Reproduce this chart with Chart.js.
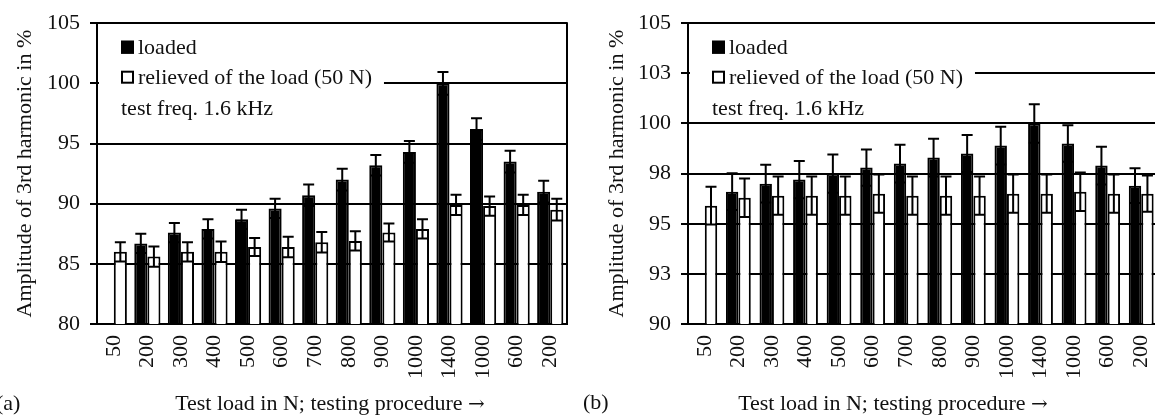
<!DOCTYPE html>
<html>
<head>
<meta charset="utf-8">
<script src="https://cdn.jsdelivr.net/npm/chart.js@4.4.0/dist/chart.umd.min.js"></script>
<style>
body{margin:0;width:1155px;height:416px;overflow:hidden;position:relative;background:#fff;font-family:"Liberation Serif","Times New Roman",serif;color:#111}
canvas{position:absolute;top:0}
#chartA{left:0}
#chartB{left:580px}
.lbl{position:absolute;font-size:22px;line-height:22px;white-space:nowrap}
.xt{transform:translateX(-50%)}
.arr{font-family:"DejaVu Serif",serif;font-size:20px}
</style>
</head>
<body>
<canvas id="chartA" width="580" height="416"></canvas>
<canvas id="chartB" width="583" height="416"></canvas>
<div class="lbl" style="left:-4px;top:392px">(a)</div>
<div class="lbl xt" style="left:330px;top:392px">Test load in N; testing procedure <span class="arr">→</span></div>
<div class="lbl" style="left:583px;top:391px">(b)</div>
<div class="lbl xt" style="left:893px;top:392px">Test load in N; testing procedure <span class="arr">→</span></div>
<script>
let loads=["50","200","300","400","500","600","700","800","900","1000","1400","1000","600","200"];
let seriesNames=["loaded","relieved of the load (50 N)"];
let note="test freq. 1.6 kHz";

// panel (a)
let loadedA=[null,86.7,87.6,87.9,88.7,89.6,90.7,92.0,93.2,94.3,100.0,96.2,93.5,91.0];
let loadedErrA=[null,0.8,0.8,0.8,0.8,0.8,0.9,0.9,0.85,0.9,0.95,0.9,0.9,0.9];
let relievedA=[86.0,85.6,86.0,86.0,86.4,86.4,86.8,86.9,87.6,87.9,89.9,89.8,89.9,89.5];
let relievedErrA=[0.8,0.85,0.8,0.85,0.75,0.85,0.85,0.8,0.75,0.8,0.85,0.8,0.85,0.9];
let ticksA=[80,85,90,95,100,105];

// panel (b)
let loadedB=[null,96.6,97.0,97.2,97.5,97.8,98.0,98.3,98.5,98.9,100.0,99.0,97.9,96.9];
let loadedErrB=[null,0.92,0.94,0.93,0.95,0.9,0.94,0.94,0.92,0.94,0.96,0.91,0.94,0.87];
let relievedB=[95.9,96.3,96.4,96.4,96.4,96.5,96.4,96.4,96.4,96.5,96.5,96.6,96.5,96.5];
let relievedErrB=[0.94,0.96,0.95,0.95,0.95,0.95,0.95,0.95,0.95,0.95,0.95,0.96,0.95,0.9];
let ticksB=[90,92.5,95,97.5,100,102.5,105];

let font={family:'"Liberation Serif","Times New Roman",serif',size:22};
let ink='#111';

// legend drawn inside the plot, on a white patch that hides the grid
let legendNote={
    id:'legendNote',
    beforeDatasetsDraw(chart){
        let ctx=chart.ctx, a=chart.chartArea;
        let x0=a.left+24;
        let rows=[a.top+24,a.top+54,a.top+85];
        let ds=chart.data.datasets;
        ctx.save();
        ctx.font='22px '+font.family;
        let w=Math.max(ctx.measureText(ds[0].label).width,ctx.measureText(ds[1].label).width)+17;
        w=Math.max(w,ctx.measureText(note).width);
        ctx.fillStyle='#fff';
        ctx.fillRect(a.left+2,a.top+2,x0+w+12-a.left-2,95);
        ds.forEach((d,i)=>{
            ctx.fillStyle=d.backgroundColor;
            ctx.fillRect(x0,rows[i]-6.5,13,13);
            ctx.strokeStyle='#000';
            ctx.lineWidth=2;
            ctx.strokeRect(x0+1,rows[i]-5.5,11,11);
            ctx.fillStyle=ink;
            ctx.textBaseline='middle';
            ctx.fillText(d.label,x0+17,rows[i]+1);
        });
        ctx.fillStyle=ink;
        ctx.textBaseline='middle';
        ctx.fillText(note,x0,rows[2]+1);
        ctx.restore();
    }
};

// error bars (+/-) and the right frame line
let errorBars={
    id:'errorBars',
    afterDatasetsDraw(chart){
        let ctx=chart.ctx, y=chart.scales.y, a=chart.chartArea;
        ctx.save();
        ctx.strokeStyle='#000';
        ctx.lineWidth=2;
        chart.data.datasets.forEach((d,i)=>{
            chart.getDatasetMeta(i).data.forEach((bar,j)=>{
                let v=d.data[j], e=d.errors[j];
                if(v==null) return;
                let top=y.getPixelForValue(v+e), bot=y.getPixelForValue(v-e);
                ctx.beginPath();
                ctx.moveTo(bar.x,top); ctx.lineTo(bar.x,bot);
                ctx.moveTo(bar.x-5.5,top); ctx.lineTo(bar.x+5.5,top);
                ctx.moveTo(bar.x-5.5,bot); ctx.lineTo(bar.x+5.5,bot);
                ctx.stroke();
            });
        });
        ctx.beginPath();
        ctx.moveTo(a.right,a.top-1); ctx.lineTo(a.right,a.bottom+1);
        ctx.stroke();
        ctx.restore();
    }
};

function makeChart(id,loaded,loadedErr,relieved,relievedErr,ticks,yWidth,padRight,titlePad,catPct){
    return new Chart(document.getElementById(id),{
        type:'bar',
        data:{
            labels:loads,
            datasets:[
                {label:seriesNames[0],data:loaded,errors:loadedErr,backgroundColor:'#000',borderColor:'#000',borderWidth:2},
                {label:seriesNames[1],data:relieved,errors:relievedErr,backgroundColor:'#fff',borderColor:'#000',borderWidth:2}
            ]
        },
        options:{
            responsive:false,
            animation:false,
            layout:{padding:{top:20,right:padRight,left:0,bottom:0}},
            plugins:{legend:{display:false},tooltip:{enabled:false}},
            datasets:{bar:{categoryPercentage:catPct,barPercentage:1}},
            scales:{
                x:{
                    grid:{display:false},
                    border:{color:'#000',width:2},
                    ticks:{font:font,color:ink,minRotation:90,maxRotation:90,padding:3,autoSkip:false},
                    afterFit:s=>{s.height=92;s.paddingLeft=0;s.paddingRight=0;}
                },
                y:{
                    min:ticks[0],max:ticks[ticks.length-1],
                    grid:{color:'#000',lineWidth:2,tickLength:7},
                    border:{color:'#000',width:2},
                    ticks:{font:font,color:ink,padding:10,callback:v=>Math.round(v)},
                    afterBuildTicks:s=>{s.ticks=ticks.map(v=>({value:v}));},
                    title:{display:true,text:'Amplitude of 3rd harmonic in %',font:font,color:ink,padding:{top:titlePad,bottom:0}},
                    afterFit:s=>{s.width=yWidth;}
                }
            }
        },
        plugins:[legendNote,errorBars]
    });
}

makeChart('chartA',loadedA,loadedErrA,relievedA,relievedErrA,ticksA,97,13,12,0.78);
makeChart('chartB',loadedB,loadedErrB,relievedB,relievedErrB,ticksB,108,5,24,0.74);
</script>
</body>
</html>
